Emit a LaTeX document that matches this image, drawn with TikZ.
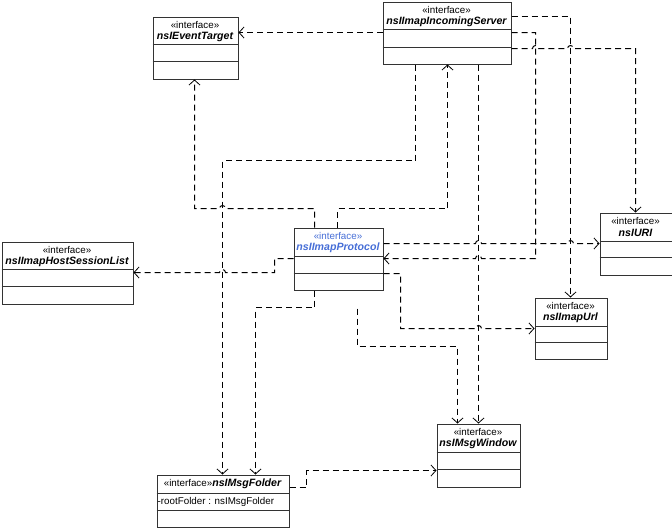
\documentclass[tikz,border=0pt]{standalone}
\usepackage{fontspec}
\setmainfont{Liberation Sans}
\usetikzlibrary{arrows.meta}
\definecolor{protoblue}{RGB}{70,110,215}
\tikzset{
  classbox/.style={draw=black!80, line width=1pt, fill=white, inner sep=0pt, rectangle},
  boxline/.style={draw=black!80, line width=1pt},
  stereo/.style={font=\fontsize{9.8}{11}\selectfont, inner sep=0pt},
  cname/.style={font=\fontsize{10.6}{12}\selectfont\bfseries\itshape, inner sep=0pt},
  attr/.style={font=\fontsize{9.8}{11}\selectfont, inner sep=0pt, anchor=west},
  dep/.style={draw=black, line width=1pt, dash pattern=on 6pt off 4pt,
    -{Straight Barb[length=5pt,width=11pt,line width=0.8pt]}},
}
\newcommand\umlclass[7]{%
  \node[classbox, minimum width={#4-#2}, minimum height={#5-#3}, anchor=north west] (#1) at (#2,#3) {};
  \draw[boxline] (#2,#6) -- (#4,#6);
  \draw[boxline] (#2,#7) -- (#4,#7);
}
\begin{document}
\begin{tikzpicture}[x=1pt,y=-1pt]
\useasboundingbox (0,0) rectangle (672,528);
\begin{scope}[shift={(0.5,0.5)}]
% classes
\umlclass{event}{152}{16}{237}{78}{44}{61}
\node[stereo] at (194.5,24) {«interface»};
\node[cname] at (194.5,36.5) {nsIEventTarget};

\umlclass{server}{382}{1}{510}{63}{29}{47}
\node[stereo] at (446,9) {«interface»};
\node[cname] at (446,21) {nsIImapIncomingServer};

\umlclass{host}{1}{241}{132}{303}{269}{286}
\node[stereo] at (66.5,249) {«interface»};
\node[cname] at (66.5,261.5) {nsIImapHostSessionList};

\umlclass{protocol}{293}{227}{382}{289}{256}{273}
\node[stereo, text=protoblue] at (337.5,235) {«interface»};
\node[cname, text=protoblue] at (337.5,247.5) {nsIImapProtocol};

\umlclass{uri}{599}{212}{671}{274}{241}{257}
\node[stereo] at (635,220) {«interface»};
\node[cname] at (635,232.5) {nsIURI};

\umlclass{url}{534}{297}{606}{358}{326}{342}
\node[stereo] at (570,305) {«interface»};
\node[cname] at (570,317.5) {nsIImapUrl};

\umlclass{window}{436}{423}{519}{486}{452}{469}
\node[stereo] at (477.5,431) {«interface»};
\node[cname] at (477.5,443.5) {nsIMsgWindow};

\umlclass{folder}{156}{474}{288}{526}{493}{510}
\node[inner sep=0pt] at (222,483.5) {\fontsize{9.8}{11}\selectfont«interface»\fontsize{10.6}{12}\selectfont\bfseries\itshape nsIMsgFolder};
\node[attr] at (157,501) {-rootFolder : nsIMsgFolder};

% connectors
\draw[dep] (server.west |- 0,32) -- (event.east |- 0,32);
\draw[dep] (314,0 |- protocol.north) -- (314,208) -- (225,208)
  arc[start angle=0,end angle=180,radius=3pt] -- (194,208) -- (194,0 |- event.south);
\draw[dep] (337,0 |- protocol.north) -- (337,208) -- (447,208) -- (447,0 |- server.south);
\draw[dep] (415,0 |- server.south) -- (415,160) -- (222,160) -- (222,0 |- folder.north);
\draw[dep] (protocol.west |- 0,258) -- (274,258) -- (274,272) -- (225,272)
  arc[start angle=0,end angle=180,radius=3pt] -- (host.east |- 0,272);
\draw[dep] (314,0 |- protocol.south) -- (314,307) -- (255,307) -- (255,0 |- folder.north);
\draw[dep] (478,0 |- server.south) -- (478,0 |- window.north);
\draw[dep] (protocol.east |- 0,243) -- (475,243)
  arc[start angle=180,end angle=0,radius=3pt] -- (567,243)
  arc[start angle=180,end angle=0,radius=3pt] -- (uri.west |- 0,243);
\draw[dep] (server.east |- 0,32) -- (535,32) -- (535,258) -- (481,258)
  arc[start angle=0,end angle=180,radius=3pt] -- (protocol.east |- 0,258);
\draw[dep] (protocol.east |- 0,273) -- (400,273) -- (400,328) -- (475,328)
  arc[start angle=180,end angle=0,radius=3pt] -- (url.west |- 0,328);
\draw[dep] (server.east |- 0,16) -- (570,16) -- (570,0 |- url.north);
\coordinate (c12) at (357,308);
\draw[dep] (c12) -- (357,346) -- (457,346) -- (457,0 |- window.north);
\draw[dep] (server.east |- 0,48) -- (532,48)
  arc[start angle=180,end angle=0,radius=3pt] -- (567,48)
  arc[start angle=180,end angle=0,radius=3pt] -- (635,48) -- (635,0 |- uri.north);
\draw[dep] (folder.east |- 0,487) -- (306,487) -- (306,470) -- (window.west |- 0,470);
\end{scope}
\end{tikzpicture}
\end{document}
